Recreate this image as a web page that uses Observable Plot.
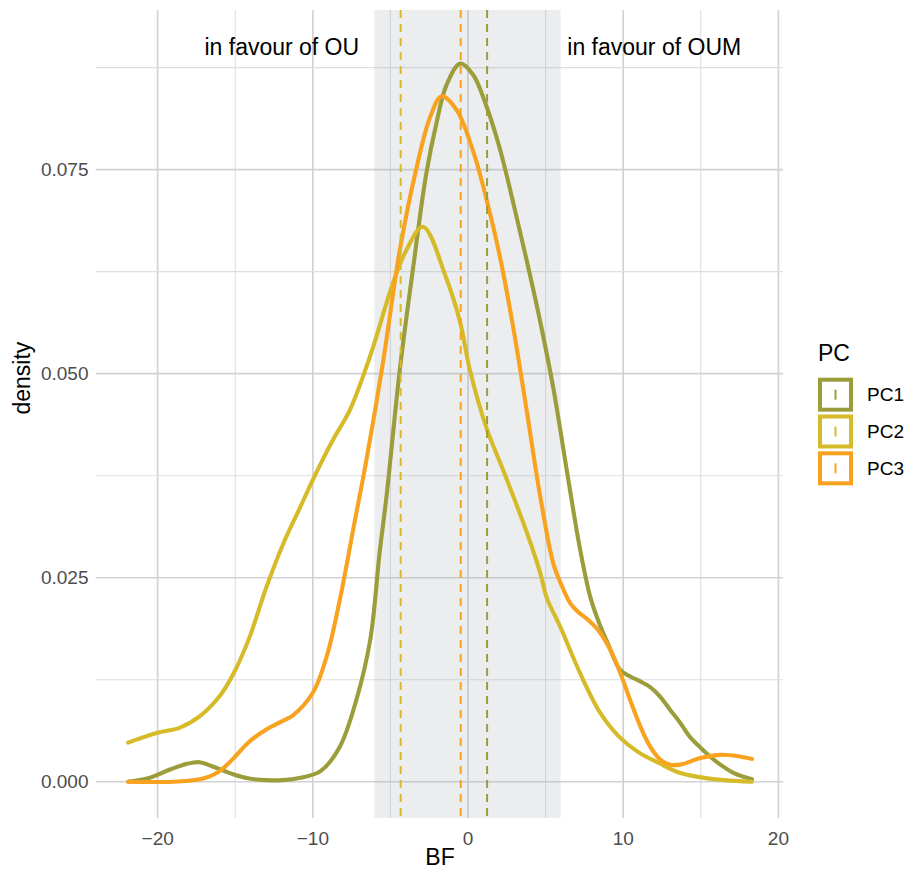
<!DOCTYPE html>
<html><head><meta charset="utf-8">
<script src="https://cdn.jsdelivr.net/npm/d3@7"></script>
<script src="https://cdn.jsdelivr.net/npm/@observablehq/plot@0.6"></script>
<style>
body{margin:0;background:#fff;font-family:"Liberation Sans",Arial,Helvetica,sans-serif;}
#wrap{position:relative;width:906px;height:875px;overflow:hidden;}
#legend{position:absolute;left:800px;top:325px;}
</style></head><body><div id="wrap"></div>
<script>
// ---- data ----
const seriesNames = ["PC1", "PC2", "PC3"];
const seriesColors = ["#9a9d3a", "#d5bb2a", "#f8a21f"];

// [BF, density]
const pc1 = [[-21.9,0],[-20.5,0.0005],[-19.2,0.0015],[-18.1,0.0022],[-17.3,0.0024],[-16.5,0.0019],[-15.1,0.0009],[-14.1,0.0004],[-13.0,0.0002],[-12.0,0.0002],[-10.8,0.0005],[-9.5,0.0013],[-8.26,0.0043],[-7.2,0.010],[-6.3,0.0174],[-5.7,0.028],[-5.25,0.035],[-4.4,0.0504],[-3.5,0.0635],[-2.7,0.0744],[-2.0,0.081],[-1.4,0.0853],[-0.5,0.088],[0.34,0.0866],[1.2,0.0827],[2.06,0.0775],[2.92,0.0709],[3.78,0.0639],[4.65,0.0564],[5.5,0.0482],[6.37,0.0381],[7.23,0.0284],[7.9,0.0225],[8.5,0.0192],[9.0,0.017],[9.8,0.0137],[10.45,0.0129],[11.1,0.0123],[11.74,0.0116],[12.39,0.0104],[13.03,0.0088],[13.68,0.0072],[14.3,0.0055],[14.97,0.0042],[15.6,0.0031],[16.26,0.0021],[17.1,0.0011],[18.3,0.0003]];
const pc2 = [[-21.9,0.0048],[-20.0,0.006],[-18.6,0.0066],[-17.3,0.008],[-16.0,0.0105],[-15.1,0.0133],[-14.1,0.0176],[-13.0,0.0238],[-11.9,0.0292],[-10.8,0.0337],[-10.0,0.037],[-8.7,0.0419],[-7.6,0.0456],[-6.3,0.0522],[-4.8,0.0613],[-3.96,0.0652],[-2.9,0.068],[-1.4,0.0617],[-0.52,0.0564],[0.13,0.0504],[1.2,0.0433],[2.28,0.0381],[3.78,0.0306],[4.65,0.0256],[5.08,0.0225],[5.94,0.019],[7.2,0.0134],[8.5,0.0085],[9.7,0.0056],[11.0,0.0036],[12.3,0.0023],[13.5,0.0012],[14.8,0.0006],[16.5,0.0002],[18.3,0.0]];
const pc3 = [[-21.9,0],[-19.0,0.0],[-17.3,0.0003],[-16.6,0.0007],[-16.0,0.0013],[-15.1,0.0029],[-14.1,0.0049],[-13.0,0.0064],[-11.9,0.0075],[-11.3,0.0081],[-10.0,0.0109],[-9.1,0.0154],[-8.26,0.0223],[-7.4,0.0309],[-6.54,0.0395],[-5.46,0.0516],[-4.39,0.0652],[-3.31,0.0753],[-2.45,0.0814],[-1.7,0.084],[-0.73,0.0823],[0.34,0.0772],[1.2,0.0713],[2.06,0.0643],[2.92,0.0556],[3.78,0.0455],[4.65,0.035],[5.5,0.0267],[6.0,0.0242],[6.58,0.0219],[7.1,0.0208],[7.7,0.0199],[8.5,0.0183],[9.16,0.0162],[9.8,0.0134],[10.45,0.010],[11.1,0.0068],[11.74,0.0043],[12.39,0.0027],[13.03,0.0021],[13.68,0.0021],[14.97,0.0029],[16.26,0.0033],[17.5,0.0031],[18.3,0.0028]];

const meanBF = [1.23, -4.34, -0.47];          // dashed lines (PC1, PC2, PC3)
const shadeRange = [-6, 6];                   // grey band
const annotX = [-12, 12];
const annotY = [0.09, 0.09];
const annotText = ["in favour of OU", "in favour of OUM"];

const xMajor = [-20, -10, 0, 10, 20];
const xMinor = [-15, -5, 5, 15];
const yMajor = [0, 0.025, 0.05, 0.075];
const yMinor = [0.0125, 0.0375, 0.0625, 0.0875];
const xDomain = [-23.94, 20.33];
const yDomain = [-0.0045, 0.0945];

// ---- tables built from the arrays ----
const seriesData = [pc1, pc2, pc3];
const densityRows = seriesNames.flatMap((s, i) => seriesData[i].map(([bf, d]) => ({series: s, bf, density: d})));
const meanRows = seriesNames.map((s, i) => ({series: s, mean: meanBF[i]}));
const annotRows = annotText.map((t, i) => ({x: annotX[i], y: annotY[i], text: t}));

const chart = Plot.plot({
  width: 906,
  height: 875,
  marginLeft: 96,
  marginRight: 123,
  marginTop: 10,
  marginBottom: 57,
  style: {fontFamily: '"Liberation Sans", Arial, Helvetica, sans-serif', fontSize: "19px", color: "#4d4d4d", background: "white"},
  x: {domain: xDomain, label: null},
  y: {domain: yDomain, label: null},
  color: {domain: seriesNames, range: seriesColors},
  marks: [
    Plot.gridX(xMinor, {stroke: "#dedede", strokeOpacity: 1, strokeWidth: 1.1}),
    Plot.gridX(xMajor, {stroke: "#d2d2d2", strokeOpacity: 1, strokeWidth: 1.7}),
    Plot.gridY(yMinor, {stroke: "#dedede", strokeOpacity: 1, strokeWidth: 1.1}),
    Plot.gridY(yMajor, {stroke: "#d2d2d2", strokeOpacity: 1, strokeWidth: 1.7}),
    Plot.rect([{x1: shadeRange[0], x2: shadeRange[1]}], {x1: "x1", x2: "x2", fill: "#9ba5af", fillOpacity: 0.2}),
    Plot.line(densityRows, {x: "bf", y: "density", z: "series", stroke: "series", strokeWidth: 4.1, curve: "catmull-rom", strokeLinecap: "round", strokeLinejoin: "round"}),
    Plot.ruleX(meanRows, {x: "mean", stroke: "series", strokeWidth: 2, strokeDasharray: "8,6"}),
    Plot.text(annotRows, {x: "x", y: "y", text: "text", fontSize: 23, fill: "black"}),
    Plot.axisX({ticks: xMajor, tickSize: 0, tickPadding: 13, label: null, fontSize: 19}),
    Plot.axisY({ticks: yMajor, tickSize: 0, tickPadding: 8, tickFormat: d3.format(".3f"), label: null, fontSize: 19}),
    Plot.text(["BF"], {text: d => d, frameAnchor: "bottom", dy: 46, fontSize: 23, fill: "black"}),
    Plot.text(["density"], {text: d => d, frameAnchor: "left", dx: -74, rotate: -90, fontSize: 23, fill: "black"})
  ]
});
const wrap = document.getElementById("wrap");
wrap.appendChild(chart);

// ---- legend (right side) ----
const leg = d3.select(wrap).append("svg").attr("id", "legend")
  .attr("width", 106).attr("height", 170)
  .style("font-family", '"Liberation Sans", Arial, Helvetica, sans-serif');
leg.append("text").attr("x", 18).attr("y", 28).attr("dy", "0.35em")
  .attr("font-size", 23).attr("fill", "black").text("PC");
seriesNames.forEach((s, i) => {
  const y0 = 52.7 + i * 36.8;
  const g = leg.append("g");
  g.append("rect").attr("x", 20).attr("y", y0 + 2).attr("width", 31).attr("height", 30)
    .attr("fill", "white").attr("stroke", seriesColors[i]).attr("stroke-width", 4);
  g.append("line").attr("x1", 35.5).attr("x2", 35.5).attr("y1", y0 + 12).attr("y2", y0 + 22)
    .attr("stroke", seriesColors[i]).attr("stroke-width", 2);
  g.append("text").attr("x", 67).attr("y", y0 + 17).attr("dy", "0.35em")
    .attr("font-size", 19).attr("fill", "black").text(s);
});
</script></body></html>
